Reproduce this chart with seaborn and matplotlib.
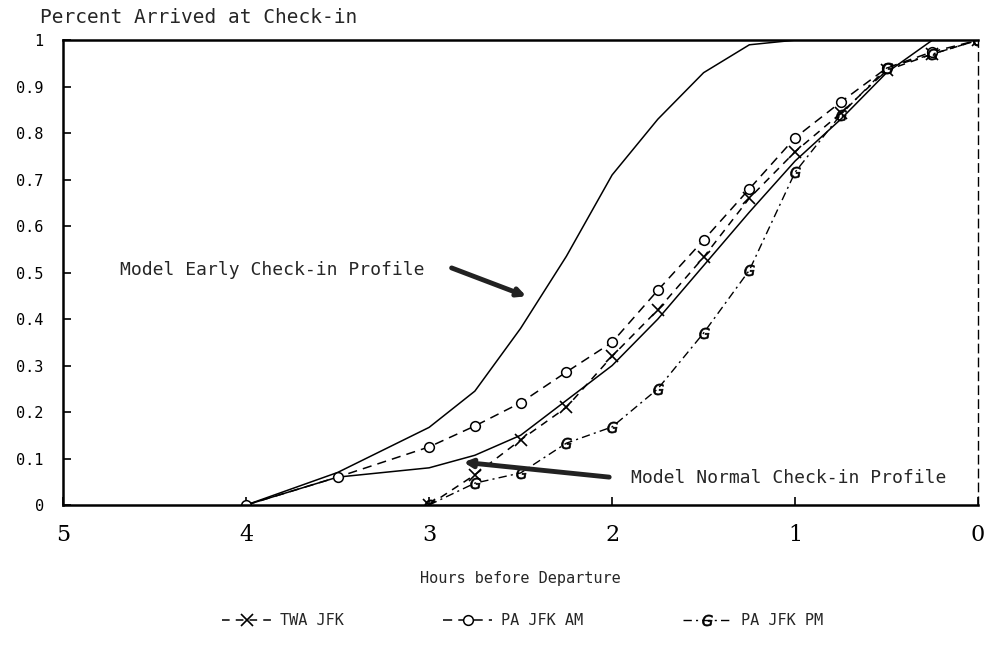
import matplotlib
matplotlib.use("Agg")
import matplotlib.pyplot as plt
import seaborn as sns
import pandas as pd

# ---- data (hours before departure -> fraction arrived) ----
early_hours = [4, 3.5, 3, 2.75, 2.5, 2.25, 2, 1.75, 1.5, 1.25, 1, 0]
early_vals = [0, 0.07, 0.167, 0.245, 0.38, 0.535, 0.71, 0.83, 0.93, 0.99, 1.0, 1.0]

normal_hours = [4, 3.5, 3, 2.75, 2.5, 2.25, 2, 1.75, 1.5, 1.25, 1, 0.75, 0.5, 0.25, 0]
normal_vals = [0, 0.06, 0.08, 0.107, 0.15, 0.225, 0.30, 0.40, 0.515, 0.63, 0.74, 0.83, 0.93, 1.0, 1.0]

twa_hours = [3, 2.75, 2.5, 2.25, 2, 1.75, 1.5, 1.25, 1, 0.75, 0.5, 0.25, 0]
twa_vals = [0, 0.065, 0.14, 0.21, 0.32, 0.42, 0.533, 0.66, 0.76, 0.843, 0.935, 0.97, 1.0]

pa_am_hours = [4, 3.5, 3, 2.75, 2.5, 2.25, 2, 1.75, 1.5, 1.25, 1, 0.75, 0.5, 0.25, 0]
pa_am_vals = [0, 0.06, 0.125, 0.17, 0.22, 0.286, 0.35, 0.462, 0.57, 0.68, 0.79, 0.867, 0.94, 0.975, 1.0]

pa_pm_hours = [3, 2.75, 2.5, 2.25, 2, 1.75, 1.5, 1.25, 1, 0.75, 0.5, 0.25, 0]
pa_pm_vals = [0, 0.047, 0.069, 0.133, 0.168, 0.25, 0.37, 0.505, 0.716, 0.84, 0.94, 0.97, 1.0]

x_ticks = [5, 4, 3, 2, 1, 0]
y_ticks = [0, 0.1, 0.2, 0.3, 0.4, 0.5, 0.6, 0.7, 0.8, 0.9, 1]
y_tick_labels = ["0", "0.1", "0.2", "0.3", "0.4", "0.5", "0.6", "0.7", "0.8", "0.9", "1"]

sns.set_style("ticks")
plt.rcParams["font.family"] = ["DejaVu Sans Mono", "DejaVu Sans"]

fig = plt.figure(figsize=(9.86, 6.58), dpi=100)
ax = fig.add_axes([0.064, 0.2325, 0.928, 0.7065])

def frame(h, v, name):
    return pd.DataFrame({"hours": h, "value": v, "series": name})

# model curves (solid)
sns.lineplot(data=frame(early_hours, early_vals, "early"), x="hours", y="value",
             ax=ax, color="black", lw=1.1, sort=False, legend=False)
sns.lineplot(data=frame(normal_hours, normal_vals, "normal"), x="hours", y="value",
             ax=ax, color="black", lw=1.1, sort=False, legend=False)

# observed series (dashed with markers)
l_twa = sns.lineplot(data=frame(twa_hours, twa_vals, "TWA JFK"), x="hours", y="value",
                     ax=ax, color="black", lw=1.1, sort=False, legend=False,
                     marker="x", markersize=8, markeredgewidth=1.2,
                     markeredgecolor="black").lines[-1]
l_twa.set_linestyle((0, (5, 4)))
l_am = sns.lineplot(data=frame(pa_am_hours, pa_am_vals, "PA JFK AM"), x="hours", y="value",
                    ax=ax, color="black", lw=1.1, sort=False, legend=False,
                    marker="o", markersize=7, markerfacecolor="white",
                    markeredgecolor="black", markeredgewidth=1.1).lines[-1]
l_am.set_linestyle((0, (6, 4)))
l_pm = sns.lineplot(data=frame(pa_pm_hours, pa_pm_vals, "PA JFK PM"), x="hours", y="value",
                    ax=ax, color="black", lw=1.0, sort=False, legend=False,
                    marker="$G$", markersize=8, markeredgewidth=0.5,
                    markeredgecolor="black", markerfacecolor="black").lines[-1]
l_pm.set_linestyle((0, (6, 3, 1.5, 3)))

ax.set_xlim(5, 0)
ax.set_ylim(0, 1)
ax.set_xticks(x_ticks)
ax.set_xticklabels([str(t) for t in x_ticks], fontsize=16, family="DejaVu Serif")
ax.set_yticks(y_ticks)
ax.set_yticklabels(y_tick_labels, fontsize=11)
ax.tick_params(axis="both", direction="in", length=6, width=1.2, colors="black")
ax.tick_params(axis="x", pad=14)
ax.tick_params(axis="y", pad=14)
ax.set_xlabel("Hours before Departure", fontsize=11, labelpad=18)
ax.set_ylabel("")

for s in ["left", "top", "bottom"]:
    ax.spines[s].set_linewidth(1.8)
    ax.spines[s].set_color("black")
ax.spines["right"].set_visible(True)
ax.spines["right"].set_linewidth(1.0)
ax.spines["right"].set_linestyle((0, (6, 4)))
ax.spines["right"].set_color("black")

fig.text(0.041, 0.974, "Percent Arrived at Check-in", fontsize=14, ha="left", va="center")

# annotations
ax.text(4.69, 0.505, "Model Early Check-in Profile", fontsize=13, ha="left", va="center")
ax.annotate("", xy=(2.469, 0.449), xytext=(2.877, 0.51),
            arrowprops=dict(arrowstyle="-|>", lw=3.5, color="#222222", mutation_scale=12,
                            shrinkA=0, shrinkB=0))
ax.text(1.896, 0.058, "Model Normal Check-in Profile", fontsize=13, ha="left", va="center")
ax.annotate("", xy=(2.812, 0.092), xytext=(2.016, 0.06),
            arrowprops=dict(arrowstyle="-|>", lw=3.5, color="#222222", mutation_scale=12,
                            shrinkA=0, shrinkB=0))

leg = fig.legend([l_twa, l_am, l_pm], ["TWA JFK", "PA JFK AM", "PA JFK PM"],
                 loc="center", bbox_to_anchor=(0.53, 0.057), ncol=3, frameon=False,
                 fontsize=11, handlelength=3.2, columnspacing=6.5, handletextpad=0.6)

fig.savefig("out.png", dpi=100)
